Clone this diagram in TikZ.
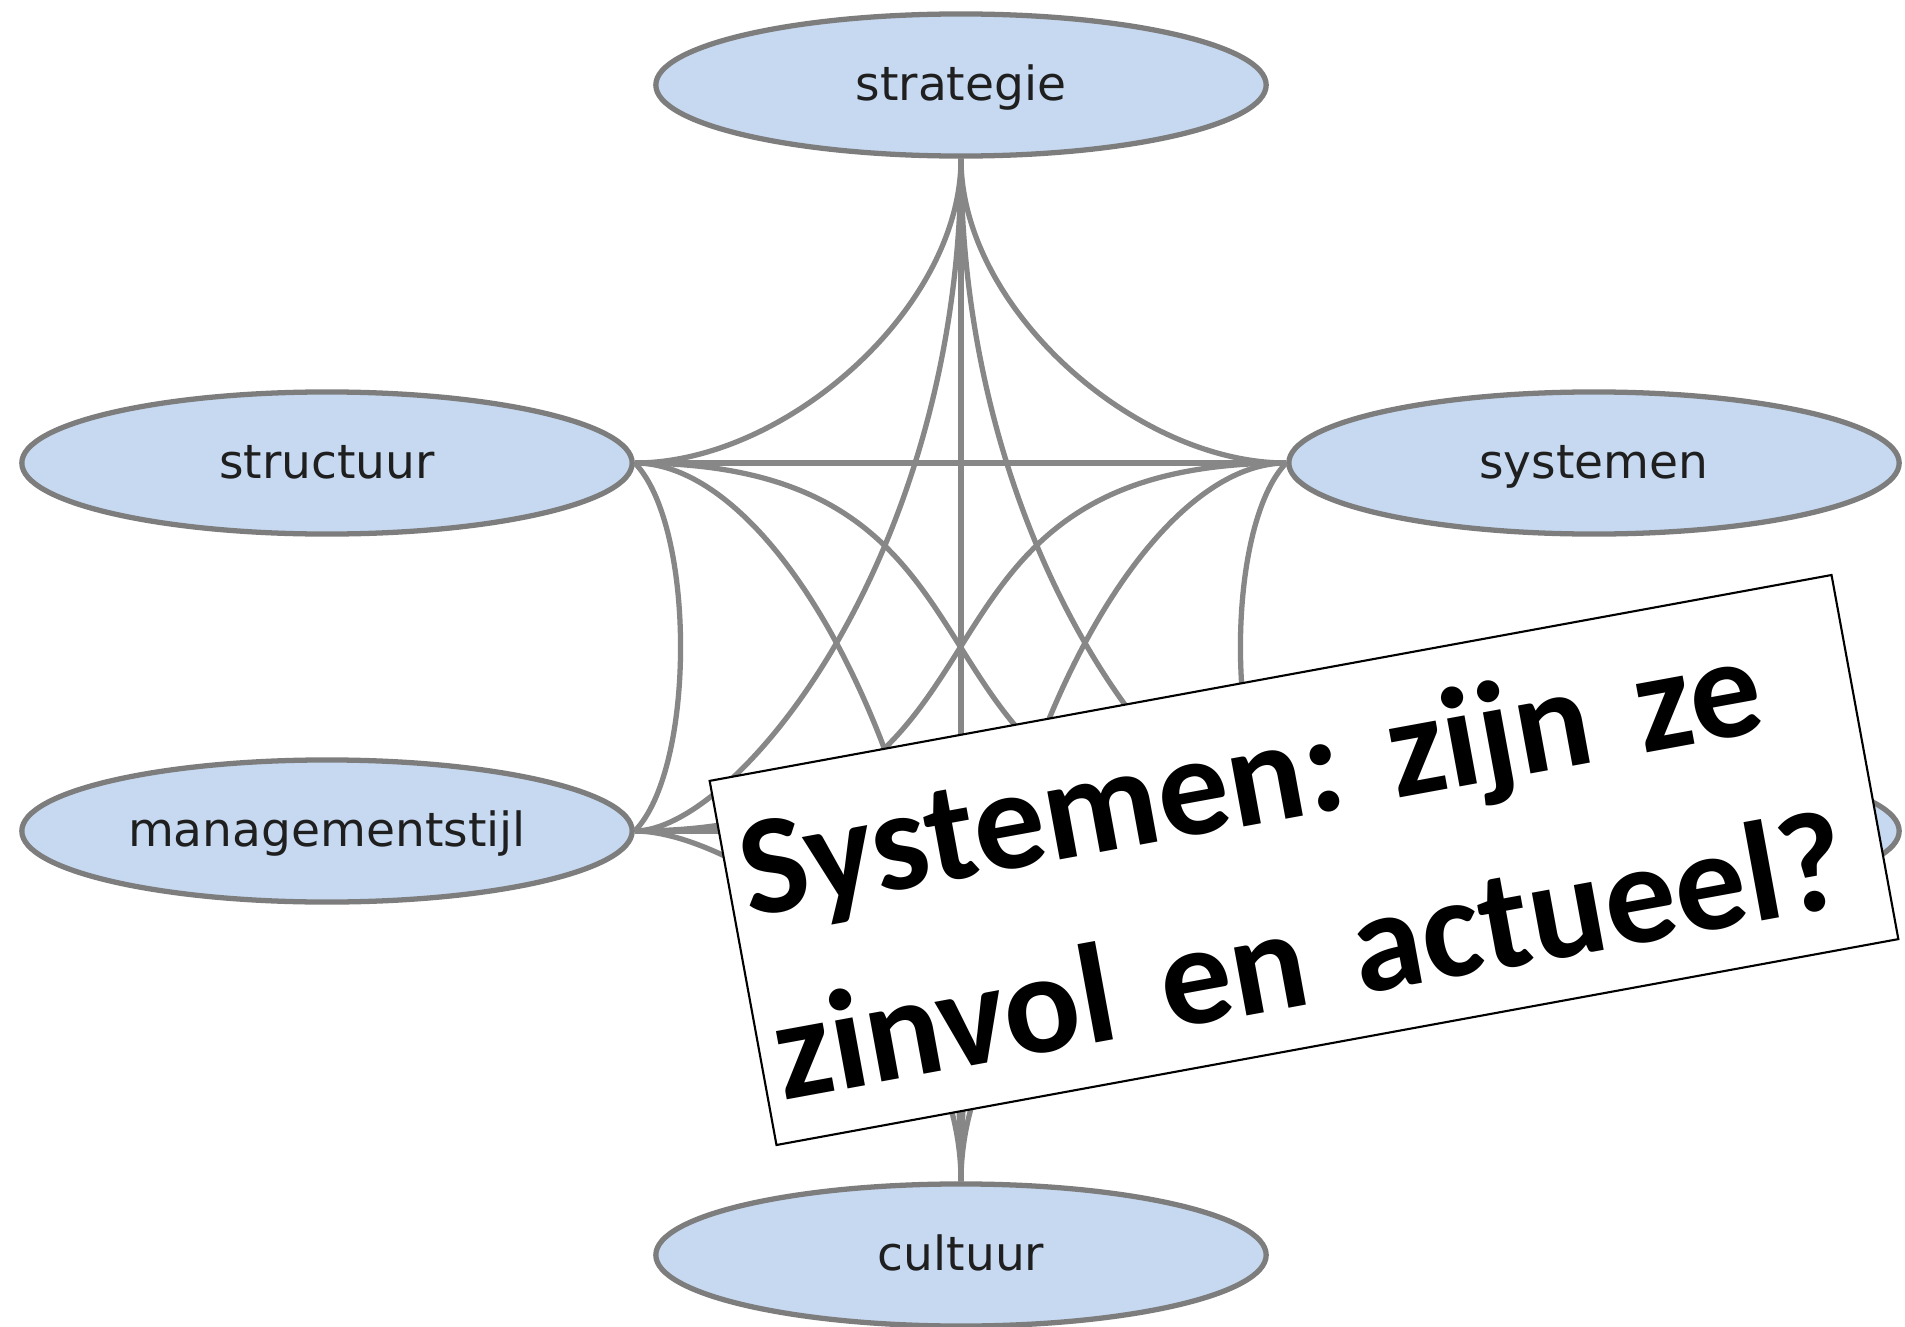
\documentclass[tikz,border=0pt]{standalone}
\usepackage{fontspec}
\setmainfont{DejaVu Sans}
\newfontfamily\boxfont{Carlito}
\usetikzlibrary{shapes.geometric}
\definecolor{nodefill}{RGB}{198,217,241}
\definecolor{nodeline}{RGB}{125,125,125}
\definecolor{linkgray}{RGB}{135,135,135}
\begin{document}
\frenchspacing
\begin{tikzpicture}[x=0.01cm,y=-0.01cm,
  sev/.style={ellipse, draw=nodeline, line width=1.5pt, fill=nodefill,
    minimum width=6.1cm, minimum height=1.42cm, inner sep=0pt,
    text height=11pt, text depth=2pt,
    font=\fontsize{13.4}{16}\selectfont, text=black!88},
  link/.style={draw=linkgray, line width=1.5pt},
  callout/.style={draw=black, line width=0.6pt, fill=white, rotate=10.4,
    minimum width=11.4cm, minimum height=3.7cm, text width=11.1cm,
    inner xsep=0.15cm, align=left,
    font=\boxfont\bfseries\fontsize{40.5}{53}\selectfont}]
\useasboundingbox (0,0) rectangle (1905,1327);
\fill[white] (0,0) rectangle (1905,1327);

\node[sev] (strat) at (961,85) {strategie};
\node[sev] (struc) at (327,463) {structuur};
\node[sev] (syst) at (1594,463) {systemen};
\node[sev] (mgmt) at (327,831) {managementstijl};
\node[sev] (hid) at (1594,831) {};
\node[sev] (cult) at (961,1255) {cultuur};

% from strategie
\draw[link] (strat.south) .. controls +(0,150) and +(150,0) .. (struc.east);
\draw[link] (strat.south) .. controls +(0,150) and +(-150,0) .. (syst.west);
\draw[link] (strat.south) -- (cult.north);
\draw[link] (strat.south) .. controls +(0,400) and +(100,0) .. (mgmt.east);
\draw[link] (strat.south) .. controls +(0,400) and +(-100,0) .. (hid.west);
% structuur / systemen
\draw[link] (struc.east) -- (syst.west);
\draw[link] (struc.east) .. controls +(61,63) and +(61,-63) .. (mgmt.east);
\draw[link] (syst.west) .. controls +(-61,63) and +(-61,-63) .. (hid.west);
\draw[link] (struc.east) .. controls +(420,0) and +(-420,0) .. (hid.west);
\draw[link] (syst.west) .. controls +(-420,0) and +(420,0) .. (mgmt.east);
\draw[link] (struc.east) .. controls +(150,0) and +(0,-385) .. (cult.north);
\draw[link] (syst.west) .. controls +(-150,0) and +(0,-385) .. (cult.north);
% lower row
\draw[link] (mgmt.east) -- (hid.west);
\draw[link] (mgmt.east) .. controls +(100,0) and +(0,-200) .. (cult.north);
\draw[link] (hid.west) .. controls +(-100,0) and +(0,-200) .. (cult.north);

\node[callout] (q) at (1304,860) {Systemen: zijn ze\\zinvol en actueel?};
\end{tikzpicture}
\end{document}
